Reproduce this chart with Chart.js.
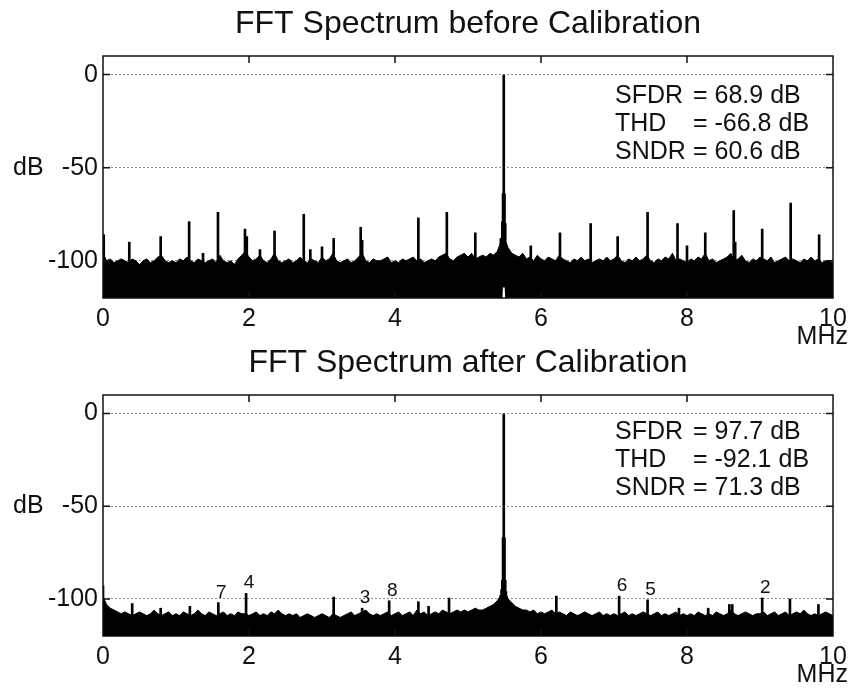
<!DOCTYPE html>
<html><head><meta charset="utf-8">
<script src="https://cdn.jsdelivr.net/npm/chart.js@4.4.1/dist/chart.umd.min.js"></script>
<style>html,body{margin:0;padding:0;background:#fff;} canvas{display:block;}</style>
</head><body>
<canvas id="c1" width="853" height="346"></canvas>
<canvas id="c2" width="853" height="346"></canvas>
<script>
// ---------- data ----------
const xTicks = [0, 2, 4, 6, 8, 10];
const yTicks = [0, -50, -100];
const titles = ['FFT Spectrum before Calibration', 'FFT Spectrum after Calibration'];

// noise floor, 0..10 MHz, step 0.05 MHz (dB)
const noiseBefore = [
 -96,-100,-99,-101,-100,-99,-100,-101,-99,-100,-102,-100,-99,-101,-100,-98,-97,-100,-101,-100,
 -101,-99,-100,-98,-100,-101,-99,-100,-101,-100,-99,-101,-97,-100,-101,-100,-102,-99,-97,-95,
 -98,-100,-99,-97,-100,-101,-99,-96,-100,-101,-100,-99,-101,-100,-98,-100,-101,-99,-100,-101,
 -98,-100,-99,-96,-100,-101,-100,-99,-101,-100,-98,-96,-100,-101,-99,-100,-100,-99,-98,-101,
 -100,-101,-99,-100,-99,-98,-100,-99,-101,-100,-99,-100,-98,-97,-96,-99,-100,-98,-97,-96,
 -98,-96,-99,-98,-97,-98,-96,-97,-95,-90,-88,-93,-96,-97,-98,-96,-99,-98,-100,-97,
 -99,-100,-98,-99,-100,-97,-99,-100,-101,-99,-100,-98,-100,-99,-101,-100,-99,-100,-98,-100,
 -99,-97,-100,-101,-99,-100,-98,-100,-99,-97,-100,-101,-99,-100,-98,-99,-96,-100,-99,-100,
 -101,-99,-100,-98,-99,-96,-100,-99,-101,-100,-99,-98,-96,-100,-99,-97,-100,-101,-99,-100,
 -98,-99,-100,-98,-101,-100,-99,-98,-100,-99,-100,-101,-99,-100,-98,-100,-99,-101,-100,-100,-101
];
const noiseAfter = [
 -99,-103,-105,-106,-107,-108,-107,-108,-109,-108,-107,-108,-109,-108,-106,-108,-109,-108,-107,-109,
 -108,-109,-107,-108,-109,-108,-106,-108,-109,-107,-108,-109,-108,-107,-109,-108,-109,-107,-108,-108,
 -109,-108,-107,-109,-108,-109,-107,-108,-106,-108,-109,-108,-109,-108,-110,-109,-108,-109,-110,-109,
 -108,-109,-110,-108,-109,-110,-109,-108,-107,-109,-108,-107,-106,-108,-109,-108,-109,-108,-107,-109,
 -108,-107,-109,-108,-107,-109,-106,-108,-107,-109,-108,-107,-108,-106,-107,-108,-107,-106,-107,-106,
 -107,-106,-105,-106,-106,-105,-104,-103,-101,-98,-96,-100,-102,-104,-105,-106,-106,-107,-106,-108,
 -107,-108,-107,-106,-108,-107,-108,-109,-107,-108,-109,-108,-107,-108,-109,-108,-107,-109,-108,-109,
 -108,-109,-108,-107,-109,-108,-109,-108,-107,-108,-109,-108,-107,-109,-108,-109,-108,-107,-109,-108,
 -109,-108,-109,-107,-108,-109,-108,-109,-107,-108,-109,-108,-106,-108,-109,-108,-107,-108,-109,-108,
 -108,-107,-109,-108,-107,-109,-108,-107,-109,-108,-107,-108,-106,-108,-109,-108,-109,-108,-107,-108,-109
];
// lower edge of the trace (minimum level), MHz / dB
const lowEdgeBefore = [[0,-120],[5.47,-120],[5.478,-114],[5.502,-114],[5.51,-120],[10,-120]];
const lowEdgeAfter  = [[0,-120],[10,-120]];

// spurs [MHz, dB]
const spursBefore = [
 [0.01,-86],[0.36,-90],[0.79,-87],[1.18,-79],[1.37,-96],[1.575,-74],[1.945,-83],[1.97,-87],
 [2.15,-94],[2.35,-84],[2.75,-75],[2.84,-94],[3.0,-92.5],[3.16,-88],[3.53,-82],[3.55,-89],
 [4.32,-77],[4.71,-74],[5.10,-85],[5.45,-88],[5.86,-92],[6.26,-85],[6.68,-80],[7.05,-87],
 [7.46,-74],[7.87,-80],[8.0,-92],[8.25,-85],[8.64,-73],[8.66,-90],[9.03,-83],[9.42,-69],[9.81,-86]
];
const carrierBefore = [[5.47,-79],[5.48,-64],[5.49,0],[5.50,-64],[5.51,-80]];
const spursAfter = [
 [0.0,-93],[0.40,-102.5],[0.79,-105],[1.19,-104],[1.58,-102],[1.96,-97],[3.16,-99],[3.55,-105],
 [3.92,-101],[4.32,-101.5],[4.46,-104],[4.74,-99.5],[6.21,-98.5],[7.07,-98.5],[7.46,-100.5],
 [7.89,-105],[8.29,-105],[8.58,-103],[8.62,-103],[9.03,-99.5],[9.41,-100],[9.80,-103]
];
const carrierAfter = [[5.45,-98],[5.46,-95],[5.47,-90],[5.48,-67],[5.49,0],[5.50,-67],[5.51,-90],[5.52,-96],[5.53,-99]];

// harmonic labels (after calibration)
const harmNames = ['7','4','3','8','6','5','2'];
const harmFreq  = [1.58, 1.96, 3.55, 3.92, 7.07, 7.46, 9.03];
const harmLevel = [-102, -97, -105, -101, -98.5, -100.5, -99.5];

const statNames   = ['SFDR', 'THD', 'SNDR'];
const statsBefore = ['= 68.9 dB', '= -66.8 dB', '= 60.6 dB'];
const statsAfter  = ['= 97.7 dB', '= -92.1 dB', '= 71.3 dB'];

// ---------- drawing ----------
const FONT = "'Liberation Sans', Arial, Helvetica, sans-serif";

const framePlugin = {
  id: 'frame',
  afterDatasetsDraw(chart, args, o) {
    const {ctx, chartArea: a, scales: {x, y}} = chart;
    ctx.save();
    ctx.strokeStyle = '#111';
    ctx.lineWidth = 1.5;
    ctx.beginPath();
    xTicks.forEach(v => {
      if (v > 0 && v < 10) {
        const px = x.getPixelForValue(v);
        ctx.moveTo(px, a.top); ctx.lineTo(px, a.top + 7);
        ctx.moveTo(px, a.bottom); ctx.lineTo(px, a.bottom - 7);
      }
    });
    yTicks.forEach(v => {
      const py = y.getPixelForValue(v);
      ctx.moveTo(a.left, py); ctx.lineTo(a.left + 7, py);
      ctx.moveTo(a.right, py); ctx.lineTo(a.right - 7, py);
    });
    ctx.stroke();
    ctx.strokeRect(a.left, a.top, a.right - a.left, a.bottom - a.top);

    ctx.fillStyle = '#111';
    ctx.textBaseline = 'middle';
    ctx.font = '25px ' + FONT;
    ctx.textAlign = 'left';
    ctx.fillText('dB', 13, y.getPixelForValue(-50));
    ctx.textAlign = 'right';
    ctx.fillText('MHz', 848, a.bottom + 39);

    ctx.textAlign = 'left';
    ctx.font = '25px ' + FONT;
    o.stats.forEach((s, i) => {
      const ty = a.top + o.statsTop + i * 28;
      ctx.fillText(statNames[i], a.right - 218, ty);
      ctx.fillText(s, a.right - 140, ty);
    });

    if (o.harm) {
      ctx.font = '19px ' + FONT;
      ctx.textAlign = 'center';
      ctx.textBaseline = 'alphabetic';
      harmNames.forEach((n, i) => {
        ctx.fillText(n, x.getPixelForValue(harmFreq[i]) + 3, y.getPixelForValue(harmLevel[i]) - 5);
      });
    }
    ctx.restore();
  }
};

function makeChart(id, title, noise, lowEdge, spurs, carrier, carrierFloor, stats, statsTop, harm, titlePad, xAxisH) {
  const n = noise.length;
  const noisePts = noise.map((v, i) => ({x: i * 10 / (n - 1), y: v}));
  const lowPts = lowEdge.map(p => ({x: p[0], y: p[1]}));
  const spurPts = spurs.map(p => ({x: p[0], y: [-120, p[1]]}))
    .concat(carrier.map(p => ({x: p[0], y: [carrierFloor, p[1]]})));
  return new Chart(document.getElementById(id), {
    type: 'line',
    data: {
      datasets: [
        {type: 'bar', data: spurPts, backgroundColor: '#000', borderWidth: 0,
         barThickness: 2, grouped: false, order: 1},
        {type: 'line', data: noisePts, borderColor: '#000', backgroundColor: '#000',
         borderWidth: 1, pointRadius: 0, tension: 0, fill: 2, order: 2},
        {type: 'line', data: lowPts, borderColor: 'rgba(0,0,0,0)', borderWidth: 0,
         pointRadius: 0, fill: false, order: 3}
      ]
    },
    options: {
      responsive: false,
      animation: false,
      events: [],
      layout: {padding: {left: 0, right: 20, top: 0, bottom: 0}},
      plugins: {
        legend: {display: false},
        tooltip: {enabled: false},
        title: {display: true, text: title, color: '#111', fullSize: false,
                font: {family: FONT, size: 32, weight: 'normal', lineHeight: 1},
                padding: titlePad},
        frame: {stats: stats, statsTop: statsTop, harm: harm}
      },
      scales: {
        x: {
          type: 'linear', min: 0, max: 10, offset: false,
          afterBuildTicks: s => { s.ticks = xTicks.map(v => ({value: v})); },
          afterFit: s => { s.height = xAxisH; },
          grid: {display: false, drawTicks: false, offset: false},
          border: {display: false},
          ticks: {color: '#111', font: {family: FONT, size: 25}, padding: 6, maxRotation: 0}
        },
        y: {
          type: 'linear', min: -120, max: 10,
          afterBuildTicks: s => { s.ticks = yTicks.map(v => ({value: v})); },
          afterFit: s => { s.width = 103; },
          grid: {color: '#8a8a8a', lineWidth: 1, drawTicks: false},
          border: {display: false, dash: [2, 2]},
          ticks: {color: '#111', font: {family: FONT, size: 25}, padding: 5}
        }
      }
    },
    plugins: [framePlugin]
  });
}

makeChart('c1', titles[0], noiseBefore, lowEdgeBefore, spursBefore, carrierBefore, -114,
          statsBefore, 40, false, {top: 8, bottom: 16}, 48);
makeChart('c2', titles[1], noiseAfter, lowEdgeAfter, spursAfter, carrierAfter, -120,
          statsAfter, 37, true, {top: 1, bottom: 16}, 56);
</script>
</body></html>
